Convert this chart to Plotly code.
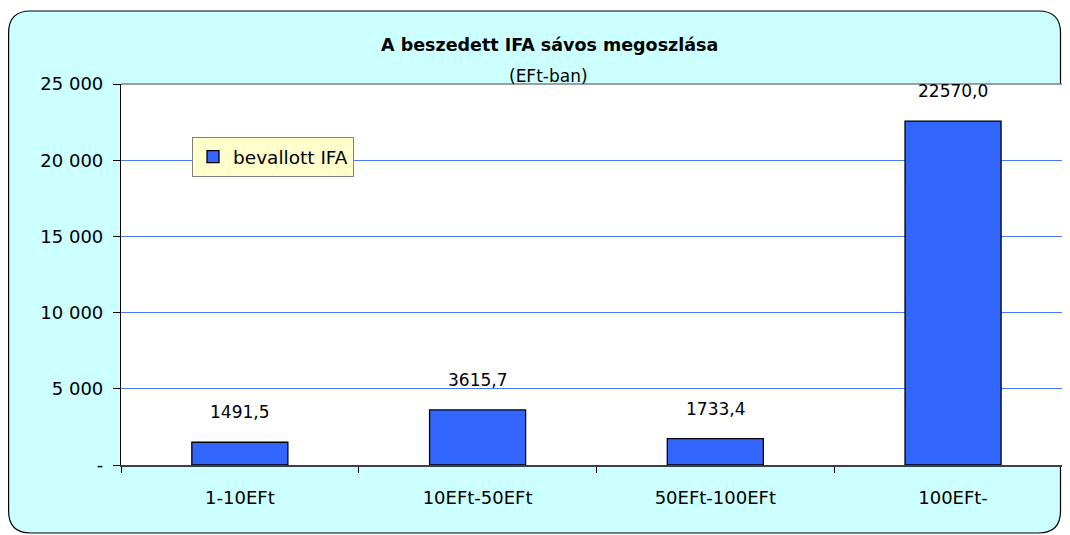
import plotly.graph_objects as go

categories = ["1-10EFt", "10EFt-50EFt", "50EFt-100EFt", "100EFt-"]
values = [1491.5, 3615.7, 1733.4, 22570.0]
series_name = "bevallott IFA"
y_tickvals = [0, 5000, 10000, 15000, 20000, 25000]
y_ticktext = ["-", "5 000", "10 000", "15 000", "20 000", "25 000"]
title_text = "A beszedett IFA sávos megoszlása"
subtitle_text = "(EFt-ban)"

FONT = "DejaVu Sans, sans-serif"
OFF = 8  # page body margin
W, H = 1070 - OFF, 535 - OFF
L_S, T_S, BOT_S = 121, 84, 465  # plot area in screen pixels
L = L_S - OFF
T = T_S - OFF
B = (H + OFF) - BOT_S
PW = W - L
PH = BOT_S - T_S


def px(x):
    return (x - L_S) / PW


def py(y):
    return (BOT_S - y) / PH


def rounded_rect(x0, y0, x1, y1, r):
    pts = [
        f"M {px(x0 + r)},{py(y0)}",
        f"L {px(x1 - r)},{py(y0)}",
        f"Q {px(x1)},{py(y0)} {px(x1)},{py(y0 + r)}",
        f"L {px(x1)},{py(y1 - r)}",
        f"Q {px(x1)},{py(y1)} {px(x1 - r)},{py(y1)}",
        f"L {px(x0 + r)},{py(y1)}",
        f"Q {px(x0)},{py(y1)} {px(x0)},{py(y1 - r)}",
        f"L {px(x0)},{py(y0 + r)}",
        f"Q {px(x0)},{py(y0)} {px(x0 + r)},{py(y0)}",
        "Z",
    ]
    return " ".join(pts)


fig = go.Figure()
fig.add_trace(go.Bar(
    x=categories, y=values, name=series_name, width=0.404,
    marker=dict(color="#3366FF", line=dict(color="black", width=1.3)),
    showlegend=True,
))

annotations = []
for c, v in zip(categories, values):
    annotations.append(dict(
        x=c, y=v, xref="x", yref="y", text=f"{v:.1f}".replace(".", ","),
        showarrow=False, yanchor="bottom", yshift=18,
        font=dict(family=FONT, size=17, color="black"),
    ))
annotations.append(dict(
    x=px(549), y=py(45), xref="paper", yref="paper", text=f"<b>{title_text}</b>",
    showarrow=False, xanchor="center", yanchor="middle",
    font=dict(family=FONT, size=17.5, color="black"),
))
annotations.append(dict(
    x=px(548), y=py(76), xref="paper", yref="paper", text=subtitle_text,
    showarrow=False, xanchor="center", yanchor="middle",
    font=dict(family=FONT, size=17, color="black"),
))

shapes = [
    dict(type="path", xref="paper", yref="paper", layer="below",
         path=rounded_rect(8.6, 11, 1060.5, 533, 22),
         fillcolor="#CCFFFF", line=dict(color="black", width=1.2)),
    dict(type="rect", xref="paper", yref="paper", layer="below",
         x0=0, x1=1.0, y0=0, y1=1, fillcolor="white", line=dict(width=0)),
    dict(type="line", xref="paper", yref="paper", layer="above",
         x0=0, x1=1.0, y0=1, y1=1, line=dict(color="#808080", width=1.5)),
]

fig.update_layout(
    width=W, height=H,
    margin=dict(l=L, r=0, t=T, b=B),
    paper_bgcolor="white",
    plot_bgcolor="rgba(0,0,0,0)",
    font=dict(family=FONT, size=17, color="black"),
    shapes=shapes,
    annotations=annotations,
    legend=dict(
        x=px(192), y=py(137), xanchor="left", yanchor="top",
        bgcolor="#FFFFCC", bordercolor="#808080", borderwidth=1,
        font=dict(family=FONT, size=18.5, color="black"),
        itemwidth=30,
    ),
)

fig.update_xaxes(
    range=[-0.5, 3.492], showgrid=False,
    showline=True, linecolor="#404040", linewidth=1.5,
    ticks="outside", tickson="boundaries", ticklen=6, tickcolor="black",
    ticklabelstandoff=16,
    tickfont=dict(family=FONT, size=18, color="black"),
)
fig.update_yaxes(
    range=[0, 25000], tickvals=y_tickvals, ticktext=y_ticktext,
    showgrid=True, gridcolor="#4D79FF", gridwidth=1,
    zeroline=False,
    showline=True, linecolor="black", linewidth=1.2,
    ticks="outside", ticklen=7, tickcolor="black",
    ticklabelstandoff=6,
    tickfont=dict(family=FONT, size=18, color="black"),
)

fig.write_html("out.html")
